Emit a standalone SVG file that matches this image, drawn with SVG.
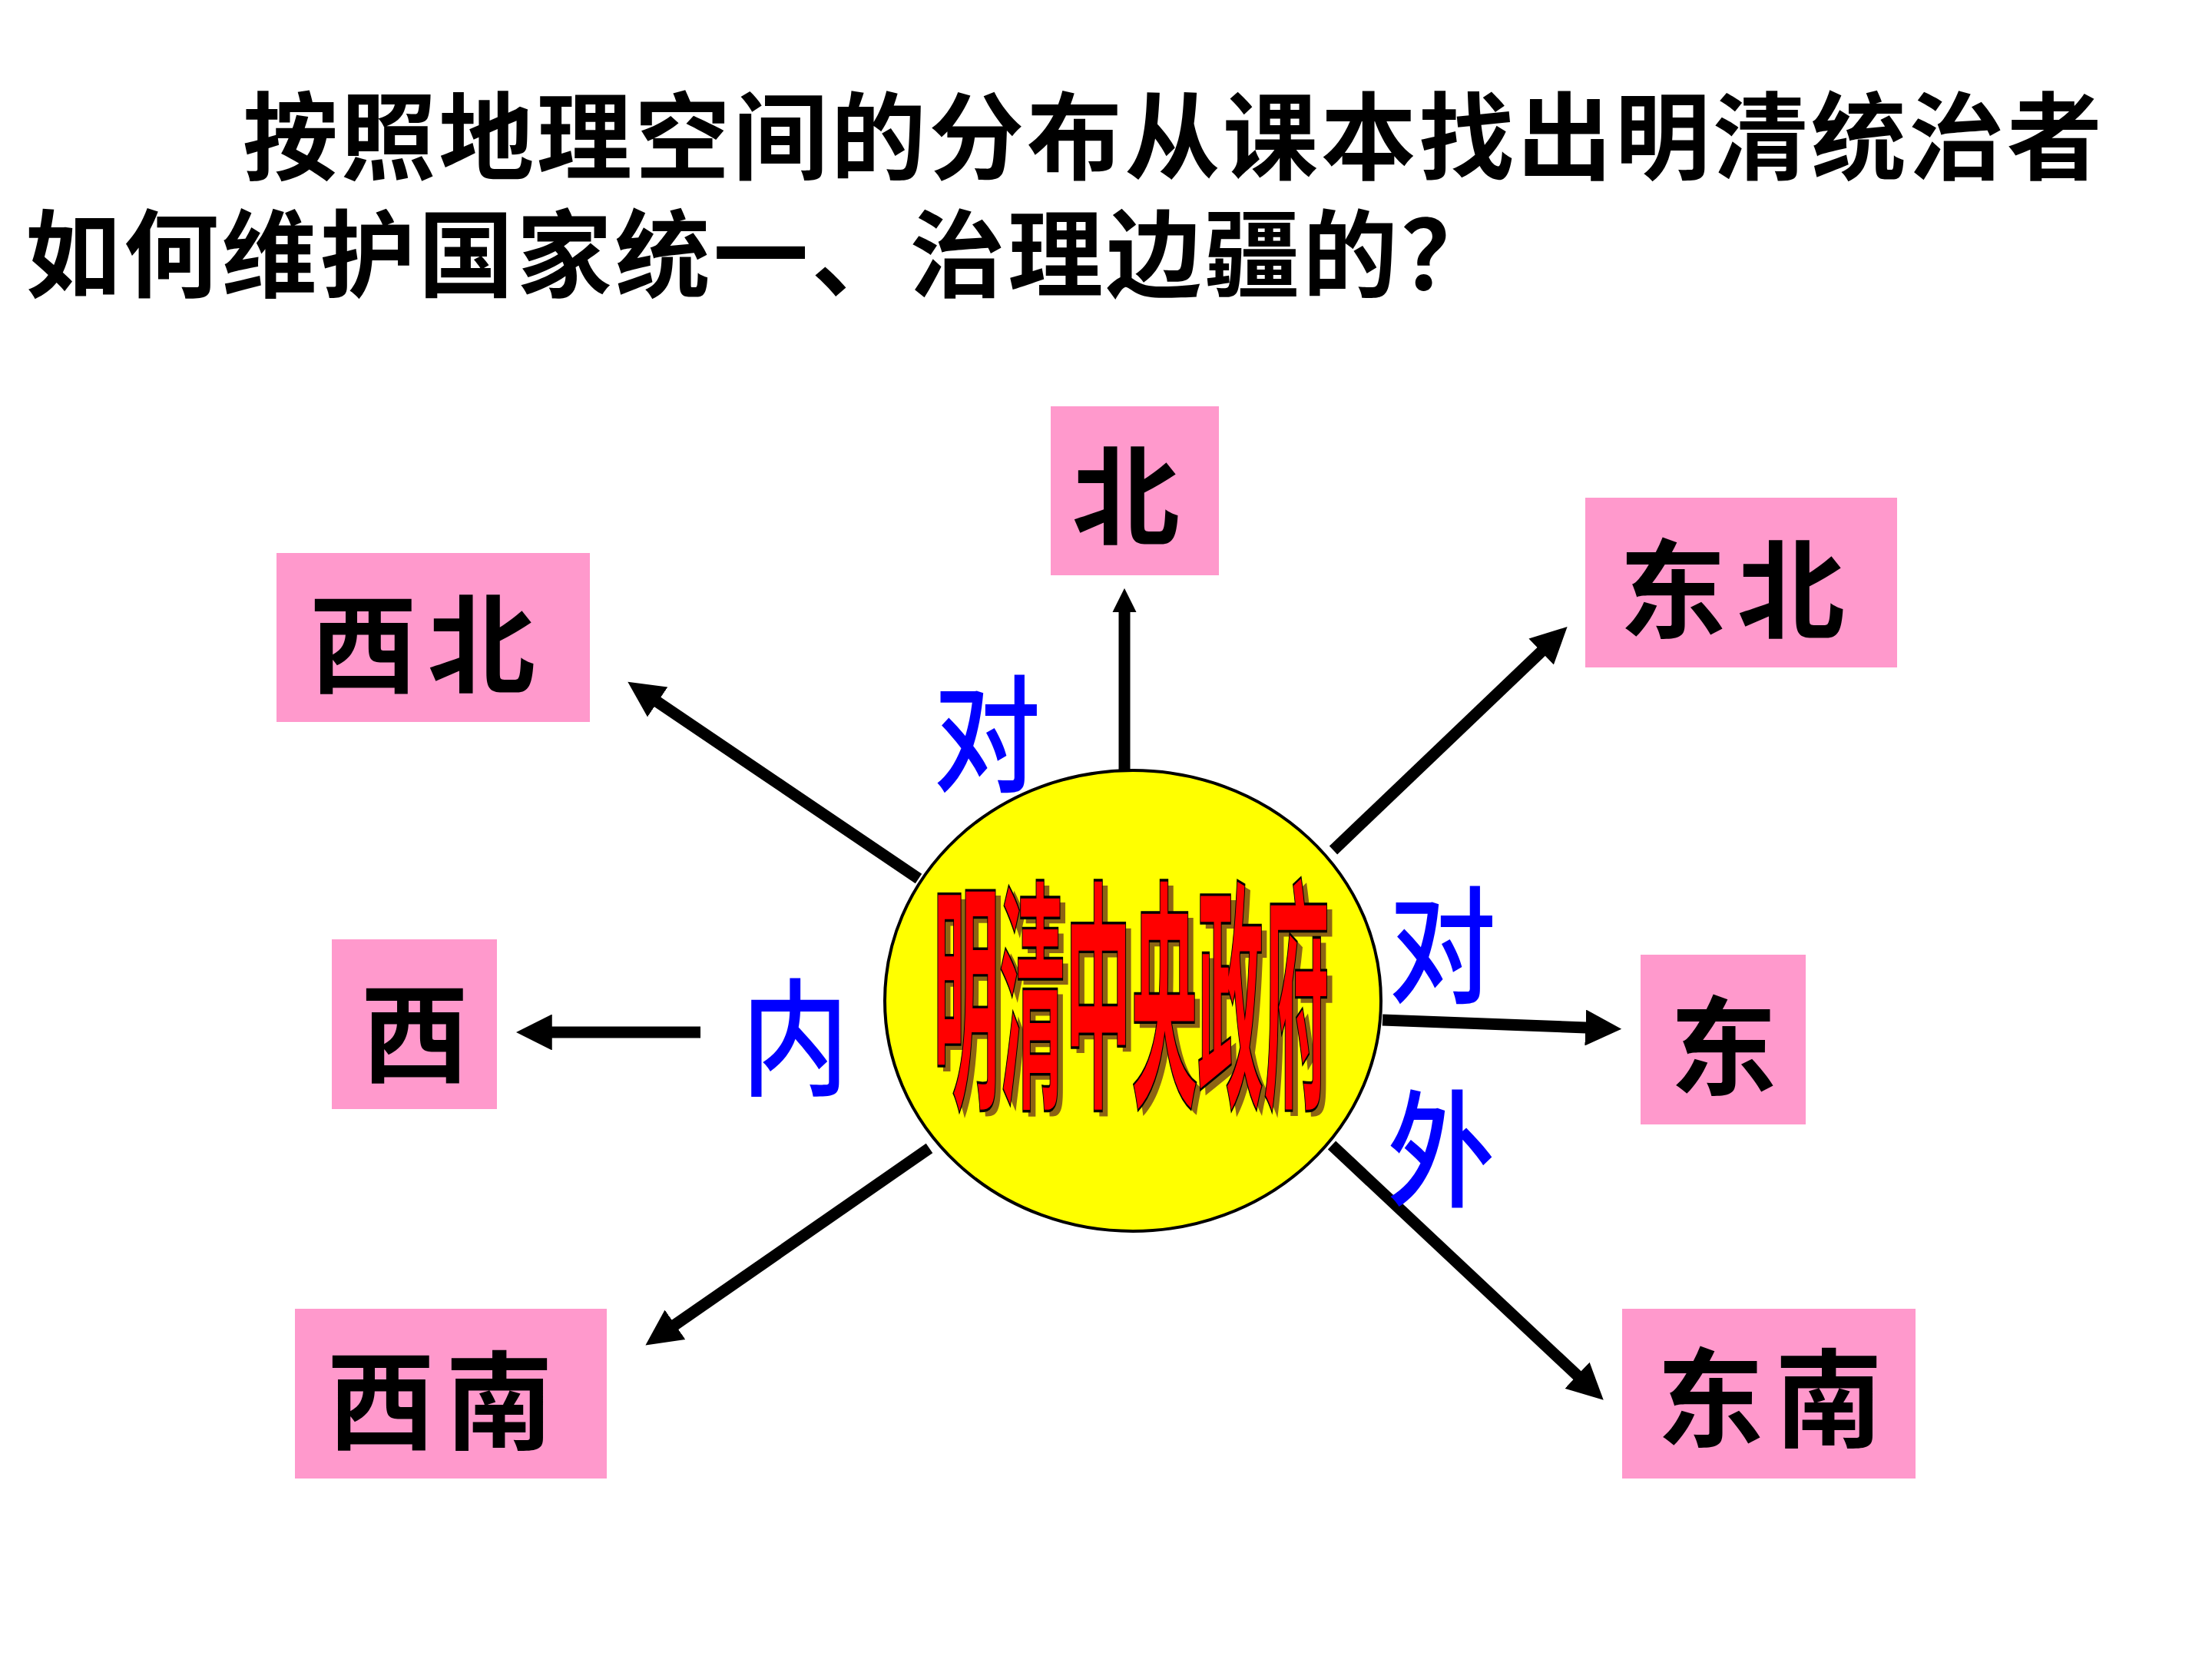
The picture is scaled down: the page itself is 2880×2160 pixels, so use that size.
<svg xmlns="http://www.w3.org/2000/svg" width="2880" height="2160" viewBox="0 0 2880 2160">
<style>
.title{font-family:"Noto Sans CJK SC","Noto Sans CJK TC",sans-serif;font-weight:700;font-size:124px;fill:#000}
.box{fill:#FF99CC}
.lbl{font-family:"Noto Sans CJK SC","Noto Sans CJK TC",sans-serif;font-weight:700;font-size:140px;fill:#000;text-anchor:middle;letter-spacing:14px}
.blue{font-family:"Noto Sans CJK SC","Noto Sans CJK TC",sans-serif;font-weight:500;font-size:165px;fill:#0000FF;text-anchor:middle}
.arr{stroke:#000;stroke-width:15;fill:none;stroke-linecap:butt}
.wa{font-family:"Noto Sans CJK SC","Noto Sans CJK TC",sans-serif;font-weight:700;font-size:200px;text-anchor:middle}
</style>
<defs>
<marker id="head" viewBox="0 0 10 10" refX="5.7" refY="5" markerWidth="3.13" markerHeight="3.13" orient="auto">
<path d="M0,0 L10,5 L0,10 z" fill="#000"/>
</marker>
<marker id="headS" viewBox="0 0 10 10" refX="4.8" refY="5" markerWidth="2.07" markerHeight="2.13" orient="auto">
<path d="M0,0 L10,5 L0,10 z" fill="#000"/>
</marker>
</defs>
<rect width="2880" height="2160" fill="#fff"/>
<g id="title">
<text class="title" x="316" y="224" textLength="2421" lengthAdjust="spacing">按照地理空间的分布从课本找出明清统治者</text>
<text class="title" x="33" y="377" textLength="1915" lengthAdjust="spacing">如何维护国家统一、治理边疆的？</text>
</g>
<g id="connectors">
<line class="arr" x1="1464" y1="1003" x2="1464" y2="782" marker-end="url(#headS)"/>
<line class="arr" x1="1196" y1="1144" x2="834" y2="899" marker-end="url(#head)"/>
<line class="arr" x1="1736" y1="1107" x2="2026" y2="830" marker-end="url(#head)"/>
<line class="arr" x1="912" y1="1344" x2="692" y2="1344" marker-end="url(#head)"/>
<line class="arr" x1="1800" y1="1328" x2="2091" y2="1339" marker-end="url(#head)"/>
<line class="arr" x1="1210" y1="1495" x2="857" y2="1740" marker-end="url(#head)"/>
<line class="arr" x1="1734" y1="1491" x2="2073" y2="1809" marker-end="url(#head)"/>
</g>
<g id="center">
<ellipse cx="1475" cy="1303" rx="323" ry="300" fill="#FFFF00" stroke="#000" stroke-width="4"/>
<text class="wa" transform="translate(1480,1425) scale(0.43,1.6)" fill="#8C6414">明清中央政府</text>
<text class="wa" transform="translate(1473,1418) scale(0.43,1.6)" fill="#FF0000" stroke="#000" stroke-width="2.5" vector-effect="non-scaling-stroke">明清中央政府</text>
</g>
<g id="node-xibei">
<rect class="box" x="360" y="720" width="408" height="220"/>
<text class="lbl" x="557" y="891">西北</text>
</g>
<g id="node-bei">
<rect class="box" x="1368" y="529" width="219" height="220"/>
<text class="lbl" x="1473" y="698">北</text>
</g>
<g id="node-dongbei">
<rect class="box" x="2064" y="648" width="406" height="221"/>
<text class="lbl" x="2262" y="820">东北</text>
</g>
<g id="node-xi">
<rect class="box" x="432" y="1223" width="215" height="221"/>
<text class="lbl" x="547" y="1398">西</text>
</g>
<g id="node-dong">
<rect class="box" x="2136" y="1243" width="215" height="221"/>
<text class="lbl" x="2251" y="1415">东</text>
</g>
<g id="node-xinan">
<rect class="box" x="384" y="1704" width="406" height="221"/>
<text class="lbl" x="580" y="1876">西南</text>
</g>
<g id="node-dongnan">
<rect class="box" x="2112" y="1704" width="382" height="221"/>
<text class="lbl" x="2311" y="1873">东南</text>
</g>
<g id="labels">
<text class="blue" transform="translate(1285,1018) scale(0.85,1)">对</text>
<text class="blue" transform="translate(1878,1293) scale(0.85,1)">对</text>
<text class="blue" transform="translate(1876,1558) scale(0.85,1)">外</text>
<text class="blue" transform="translate(1035,1413) scale(0.85,1)">内</text>
</g>
</svg>
